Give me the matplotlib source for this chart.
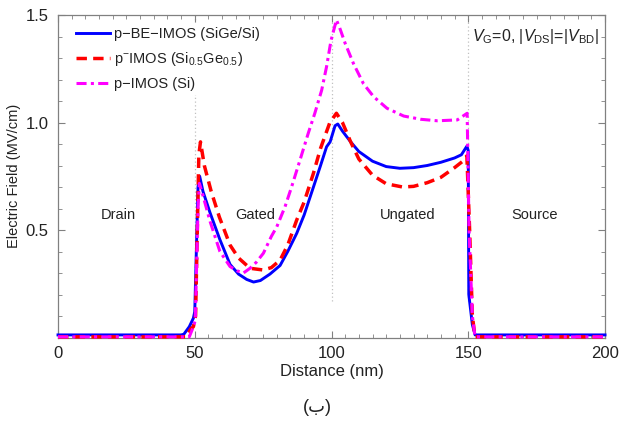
import matplotlib
matplotlib.use("Agg")
import matplotlib.pyplot as plt
from matplotlib.ticker import MultipleLocator, FormatStrFormatter

plt.rcParams['font.family'] = ['Liberation Sans', 'DejaVu Sans']
plt.rcParams['mathtext.fontset'] = 'custom'
plt.rcParams['mathtext.rm'] = 'Liberation Sans'
plt.rcParams['mathtext.it'] = 'Liberation Sans:italic'
plt.rcParams['mathtext.bf'] = 'Liberation Sans:bold'

# p-BE-IMOS (SiGe/Si): field profile along the channel
x_be = [0, 45, 46, 48, 49.5, 50.0, 51.2, 51.8, 53, 55.6, 59.2, 62.9, 66, 69, 71.5,
        74, 77.5, 81.2, 84, 87.3, 90, 93.4, 96, 98.2, 99.5, 101.3, 102.3, 104, 107,
        110, 115, 120, 125, 130, 135, 140, 145, 147.5, 149.5, 150.0, 150.2, 151.5,
        152.5, 200]
e_be = [0.012, 0.012, 0.015, 0.05, 0.09, 0.12, 0.70, 0.75, 0.68, 0.58, 0.455, 0.34,
        0.295, 0.27, 0.258, 0.265, 0.295, 0.335, 0.40, 0.485, 0.57, 0.70, 0.80,
        0.887, 0.91, 0.985, 0.993, 0.96, 0.91, 0.865, 0.82, 0.795, 0.787, 0.79,
        0.80, 0.815, 0.835, 0.85, 0.89, 0.87, 0.20, 0.06, 0.012, 0.012]

# p-IMOS (Si0.5Ge0.5)
x_sige = [0, 47, 48.5, 49.5, 50.3, 51.5, 52.1, 53.5, 56, 59, 62.9, 66, 70.2, 75, 78,
          81.2, 84, 87.3, 90, 93.4, 96, 99.4, 101.8, 104, 107, 110, 115, 120, 126,
          130, 135, 140, 145, 148, 149.5, 150.5, 151.5, 152.5, 200]
e_sige = [0.003, 0.003, 0.04, 0.05, 0.10, 0.85, 0.91, 0.80, 0.68, 0.56, 0.43, 0.37,
          0.322, 0.314, 0.325, 0.36, 0.43, 0.547, 0.63, 0.764, 0.88, 1.0, 1.043,
          1.0, 0.91, 0.83, 0.755, 0.715, 0.70, 0.703, 0.72, 0.745, 0.79, 0.82,
          0.845, 0.50, 0.10, 0.003, 0.003]

# p-IMOS (Si)
x_si = [0, 48, 49.5, 50.2, 51.2, 51.7, 53, 55.6, 59.2, 62.9, 65.5, 67.8, 70.2, 72.5,
        75.1, 78, 80, 83, 85.4, 88.5, 91.5, 93.9, 96.4, 98.2, 99.8, 101.8, 103, 105,
        108, 111.7, 115.4, 120.3, 126.4, 132.6, 138.7, 146, 149.6, 150.3, 151.5,
        152.5, 200]
e_si = [0.003, 0.003, 0.05, 0.08, 0.60, 0.717, 0.66, 0.54, 0.40, 0.33, 0.31, 0.30,
        0.322, 0.35, 0.392, 0.47, 0.515, 0.608, 0.70, 0.826, 0.95, 1.043, 1.15,
        1.26, 1.38, 1.477, 1.44, 1.368, 1.275, 1.18, 1.12, 1.066, 1.03, 1.015,
        1.008, 1.012, 1.043, 0.50, 0.10, 0.003, 0.003]

labels = ["p\u2212BE\u2212IMOS (SiGe/Si)",
          "p$^{-}$IMOS (Si$_{0.5}$Ge$_{0.5}$)",
          "p\u2212IMOS (Si)"]
regions = ["Drain", "Gated", "Ungated", "Source"]
region_x = [22, 72, 127.7, 174.4]
boundaries = [50, 100, 150]

fig = plt.figure(figsize=(6.2, 4.24), dpi=100)
ax = fig.add_axes([58 / 620, 1 - 337.5 / 424, 547 / 620, 322.5 / 424])

for xb in boundaries:
    ax.plot([xb, xb], [0.17, 1.5], color='#c0c0c0', lw=0.9, ls=(0, (1, 2)), zorder=1)

ax.plot(x_be, e_be, color='#0000ff', lw=2.1, label=labels[0], zorder=3,
        clip_on=False, solid_joinstyle='round')
ax.plot(x_sige, e_sige, color='#ff0000', lw=2.5, dashes=(3, 1.8), label=labels[1],
        zorder=4, clip_on=False)
ax.plot(x_si, e_si, color='#ff00ff', lw=2.2, dashes=(3.3, 1.4, 1, 1.4),
        label=labels[2], zorder=5, clip_on=False)

ax.set_xlim(0, 200)
ax.set_ylim(0, 1.5)
ax.set_xticks([0, 50, 100, 150, 200])
ax.set_yticks([0.5, 1.0, 1.5])
ax.yaxis.set_major_formatter(FormatStrFormatter('%.1f'))
ax.xaxis.set_minor_locator(MultipleLocator(5))
ax.yaxis.set_minor_locator(MultipleLocator(0.1))
ax.tick_params(which='both', direction='in', top=True, right=True, color='#808080')
ax.tick_params(which='major', length=5, width=0.8, labelsize=12, labelcolor='#222222')
ax.tick_params(which='minor', length=3, width=0.6)
ax.tick_params(axis='x', pad=6)
ax.tick_params(axis='y', pad=7)
for s in ax.spines.values():
    s.set_color('#808080')
    s.set_linewidth(0.9)

ax.set_xlabel("Distance (nm)", fontsize=12, color='#222222', labelpad=2)
ax.set_ylabel("Electric Field (MV/cm)", fontsize=10.5, color='#222222', labelpad=3)

for name, xr in zip(regions, region_x):
    ax.text(xr, 0.57, name, fontsize=10.5, ha='center', va='center', color='#222222')

ax.text(151.5, 1.40, r"$V_{\mathrm{G}}$=0, |$V_{\mathrm{DS}}$|=|$V_{\mathrm{BD}}$|",
        fontsize=11.5, ha='left', va='center', color='#222222')

leg = ax.legend(loc='upper left', bbox_to_anchor=(0.02, 0.985), fontsize=10.5,
                handlelength=2.3, handletextpad=0.3, labelspacing=0.6,
                frameon=True, fancybox=False, borderpad=0.3, borderaxespad=0.2)
leg.get_frame().set_facecolor('white')
leg.get_frame().set_edgecolor('none')
leg.get_frame().set_alpha(1)
for t in leg.get_texts():
    t.set_color('#222222')

fig.text(317 / 620, 1 - 408 / 424, "(\u0628)", fontsize=13, ha='center', va='center',
         color='#222222')

fig.savefig("out.png", dpi=100)
